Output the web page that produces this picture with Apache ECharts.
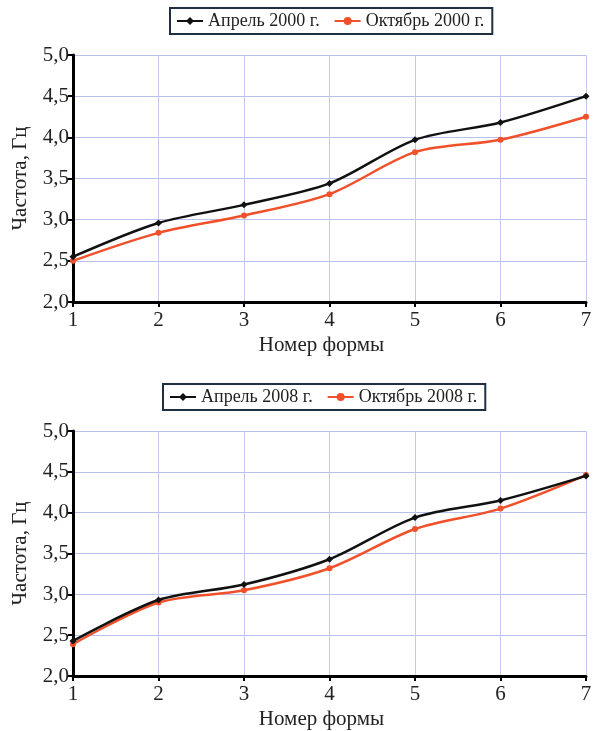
<!DOCTYPE html>
<html><head><meta charset="utf-8">
<script src="https://cdn.jsdelivr.net/npm/echarts@6/dist/echarts.min.js"></script>
<style>html,body{margin:0;padding:0;background:#fff}#c{width:598px;height:731px}</style>
</head><body><div id="c"></div>
<script>
const categories = ['1','2','3','4','5','6','7'];
const apr2000 = [2.55, 2.96, 3.18, 3.44, 3.97, 4.18, 4.50];
const oct2000 = [2.50, 2.84, 3.05, 3.31, 3.82, 3.97, 4.25];
const apr2008 = [2.43, 2.93, 3.12, 3.43, 3.94, 4.15, 4.45];
const oct2008 = [2.39, 2.90, 3.05, 3.32, 3.80, 4.05, 4.46];
const yTicks = [2.0, 2.5, 3.0, 3.5, 4.0, 4.5, 5.0];
const names = ['Апрель 2000 г.', 'Октябрь 2000 г.', 'Апрель 2008 г.', 'Октябрь 2008 г.'];

const FONT = 'Liberation Serif';
const BLACK = '#111111';
const RED = '#f0502a';
const chart = echarts.init(document.getElementById('c'));

function xAx(i){
  return {
    type:'category', gridIndex:i, data:categories, boundaryGap:false,
    name:'Номер формы', nameLocation:'middle', nameGap:33,
    nameTextStyle:{fontFamily:FONT, fontSize:21, color:'#222', padding:[0,16,0,0]},
    axisLine:{lineStyle:{color:'#000', width:3}},
    axisTick:{show:true, length:5, lineStyle:{color:'#000', width:2}},
    axisLabel:{fontFamily:FONT, fontSize:21, color:'#222', margin:8},
    splitLine:{show:true, lineStyle:{color:'#c3cbec', width:1}}
  };
}
function yAx(i){
  return {
    type:'value', gridIndex:i, min:yTicks[0], max:yTicks[yTicks.length-1], interval:0.5,
    name:'Частота, Гц', nameLocation:'middle', nameGap:42, nameRotate:90,
    nameTextStyle:{fontFamily:FONT, fontSize:21, color:'#222'},
    axisLine:{show:true, lineStyle:{color:'#000', width:3}},
    axisTick:{show:true, length:5, lineStyle:{color:'#000', width:2}},
    axisLabel:{fontFamily:FONT, fontSize:21, color:'#222', margin:4,
      formatter:v=>v.toFixed(1).replace('.', ',')},
    splitLine:{show:true, lineStyle:{color:'#b7c1ea', width:1}}
  };
}
function ser(name, data, i, color, sym){
  return {
    name, type:'line', xAxisIndex:i, yAxisIndex:i, data, smooth:0.3,
    symbol:sym, symbolSize: sym==='diamond'?7:6,
    lineStyle:{color, width:2.5}, itemStyle:{color}, z: color===BLACK?3:2
  };
}
function leg(i, left, top){
  return {
    data:[names[2*i], names[2*i+1]], left, top,
    orient:'horizontal', borderColor:'#1d2f40', borderWidth:2,
    padding:[4,8,4,6], itemGap:14, itemWidth:26, itemHeight:10,
    textStyle:{fontFamily:FONT, fontSize:18, color:'#222'}
  };
}
chart.setOption({
  animation:false,
  backgroundColor:'#fff',
  legend:[leg(0,170,8), leg(1,163,384)],
  grid:[
    {left:73, right:12, top:55, height:247},
    {left:73, right:12, top:431, height:248}
  ],
  xAxis:[xAx(0), xAx(1)],
  yAxis:[yAx(0), yAx(1)],
  series:[
    ser(names[0], apr2000, 0, BLACK, 'diamond'),
    ser(names[1], oct2000, 0, RED, 'circle'),
    ser(names[2], apr2008, 1, BLACK, 'diamond'),
    ser(names[3], oct2008, 1, RED, 'circle')
  ]
});
</script></body></html>
